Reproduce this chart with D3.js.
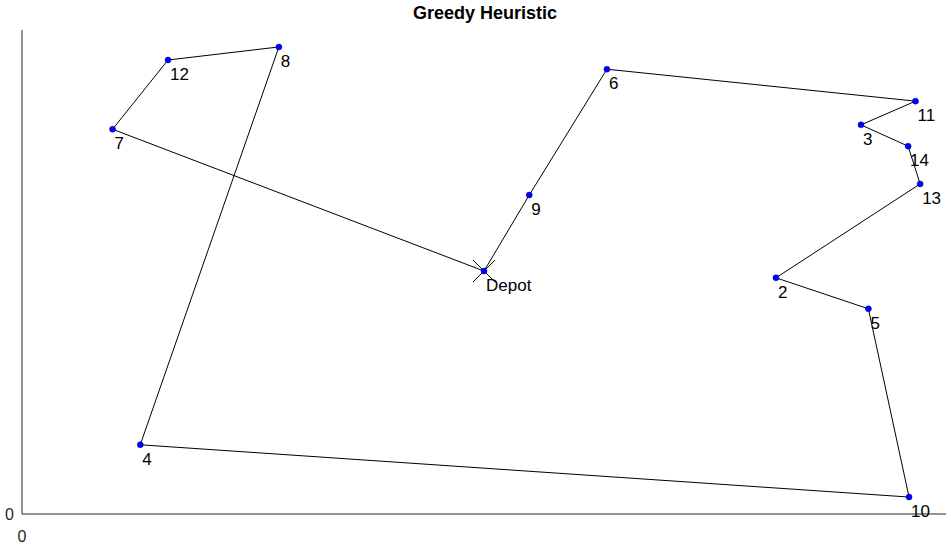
<!DOCTYPE html><html><head><meta charset="utf-8">
<script src="https://cdn.jsdelivr.net/npm/d3@7"></script>
<style>body{margin:0;background:#fff}svg{font-family:"Liberation Sans",Arial,sans-serif}</style></head><body>
<svg id="c" width="951" height="547"></svg>
<script>
const names=["Depot","9","6","11","3","14","13","2","5","10","4","8","12","7"];
const xs=[50.0,54.9,63.3,96.7,90.8,95.9,97.2,81.6,91.6,96.0,12.8,27.8,15.8,9.8];
const ys=[50.2,65.9,91.9,85.3,80.4,76.0,68.2,48.8,42.4,3.5,14.3,96.5,93.8,79.5];
const svg=d3.select("#c");
const x=d3.scaleLinear().domain([0,100]).range([22,946]);
const y=d3.scaleLinear().domain([0,100]).range([514,30]);
svg.append("line").attr("x1",22).attr("x2",22).attr("y1",30).attr("y2",514).attr("stroke","#262626");
svg.append("line").attr("x1",22).attr("x2",946).attr("y1",514).attr("y2",514).attr("stroke","#262626");
svg.append("text").attr("x",14).attr("y",520).attr("text-anchor","end").attr("font-size",16).attr("fill","#262626").text("0");
svg.append("text").attr("x",22).attr("y",542).attr("text-anchor","middle").attr("font-size",16).attr("fill","#262626").text("0");
svg.append("text").attr("x",485).attr("y",19).attr("text-anchor","middle").attr("font-size",18).attr("font-weight","bold").text("Greedy Heuristic");
const pts=xs.map((v,i)=>[x(v),y(ys[i])]);pts.push(pts[0]);
svg.append("path").attr("d",d3.line()(pts)).attr("fill","none").attr("stroke","#000").attr("stroke-width",1);
const cx=x(xs[0]),cy=y(ys[0]);
svg.append("path").attr("d",`M${cx-11},${cy-11}L${cx+11},${cy+11}M${cx-11},${cy+11}L${cx+11},${cy-11}`).attr("stroke","#000");
xs.forEach((v,i)=>{
 svg.append("circle").attr("cx",x(v)).attr("cy",y(ys[i])).attr("r",3).attr("fill","#0000ff").attr("stroke","#00008b").attr("stroke-width",0.5);
 svg.append("text").attr("x",x(v)+2).attr("y",y(ys[i])+20).attr("font-size",17).text(names[i]);
});
</script></body></html>
